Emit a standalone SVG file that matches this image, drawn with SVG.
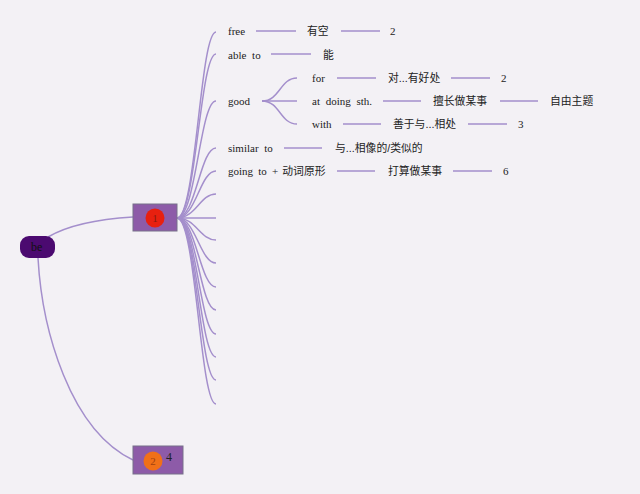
<svg xmlns="http://www.w3.org/2000/svg" width="640" height="494" viewBox="0 0 640 494">
<style>
.bg{fill:#f3f1f5}
.c{fill:none;stroke:#a48fcc;stroke-width:1.5}
.t{font-family:"Liberation Serif","Noto Sans CJK SC",serif;font-size:11px;fill:#222;word-spacing:3px}
.z{font-family:"Liberation Sans","Noto Sans CJK SC",sans-serif;font-size:10.8px;fill:#222}
.box{fill:#8d5ba8;stroke:#77708a;stroke-width:1}
</style>
<rect class="bg" x="0" y="0" width="640" height="494"/>
<g id="connectors">
<path class="c" d="M48,237 C70,224 100,219 133,217"/>
<path class="c" d="M38,258 C42,330 70,430 133,460"/>
<path class="c" d="M177,218 C196,218 200,32 216,32"/>
<path class="c" d="M177,218 C196,218 200,54 216,54"/>
<path class="c" d="M177,218 C196,218 200,101 216,101"/>
<path class="c" d="M177,218 C196,218 200,148 216,148"/>
<path class="c" d="M177,218 C196,218 200,171 216,171"/>
<path class="c" d="M177,218 C196,218 200,194 216,194"/>
<path class="c" d="M177,218 L216,218"/>
<path class="c" d="M177,218 C196,218 200,240 216,240"/>
<path class="c" d="M177,218 C196,218 200,263 216,263"/>
<path class="c" d="M177,218 C196,218 200,287 216,287"/>
<path class="c" d="M177,218 C196,218 200,310 216,310"/>
<path class="c" d="M177,218 C196,218 200,334 216,334"/>
<path class="c" d="M177,218 C196,218 200,357 216,357"/>
<path class="c" d="M177,218 C196,218 200,380 216,380"/>
<path class="c" d="M177,218 C196,218 200,404 216,404"/>
<path class="c" d="M262,101 C280,101 280,78 297,78"/>
<path class="c" d="M262,101 L297,101"/>
<path class="c" d="M262,101 C280,101 280,124 297,124"/>
<path class="c" d="M256,31 H296 M341,31 H380"/>
<path class="c" d="M271,54 H311"/>
<path class="c" d="M337,78 H376 M451,78 H490"/>
<path class="c" d="M383,101 H421 M500,101 H538"/>
<path class="c" d="M343,124 H381 M468,124 H507"/>
<path class="c" d="M284,148 H322"/>
<path class="c" d="M337,171 H375 M453,171 H492"/>
</g>
<g id="be">
<rect x="20" y="236" width="35" height="22" rx="9" fill="#4b0a70"/>
<text class="t" x="31" y="251" style="font-size:12px;fill:#111">be</text>
</g>
<g id="n1">
<rect class="box" x="133" y="204" width="44" height="27"/>
<circle cx="155" cy="218" r="9.5" fill="#e8200f"/>
<text class="t" x="155" y="222" text-anchor="middle" style="fill:#8a1a10">1</text>
</g>
<g id="n2">
<rect class="box" x="133" y="446" width="50" height="28"/>
<circle cx="153" cy="461" r="9.5" fill="#f07018"/>
<text class="t" x="153" y="465" text-anchor="middle" style="fill:#a04010">2</text>
<text class="t" x="166" y="461" style="font-size:12px">4</text>
</g>
<g id="free"><text class="t" x="228" y="35">free</text></g>
<g id="free1"><text class="z" x="307" y="35">有空</text></g>
<g id="free2"><text class="t" x="390" y="35">2</text></g>
<g id="able"><text class="t" x="228" y="59">able to</text></g>
<g id="able1"><text class="z" x="323" y="59">能</text></g>
<g id="good"><text class="t" x="228" y="105">good</text></g>
<g id="for"><text class="t" x="312" y="82">for</text></g>
<g id="for1"><text class="z" x="388" y="82">对...有好处</text></g>
<g id="for2"><text class="t" x="501" y="82">2</text></g>
<g id="at"><text class="t" x="312" y="105">at doing sth.</text></g>
<g id="at1"><text class="z" x="433" y="105">擅长做某事</text></g>
<g id="at2"><text class="z" x="550" y="105">自由主题</text></g>
<g id="with"><text class="t" x="312" y="128">with</text></g>
<g id="with1"><text class="z" x="393" y="128">善于与...相处</text></g>
<g id="with2"><text class="t" x="518" y="128">3</text></g>
<g id="similar"><text class="t" x="228" y="152">similar to</text></g>
<g id="similar1"><text class="z" x="335" y="152">与...相像的/类似的</text></g>
<g id="going"><text class="t" x="228" y="175" style="word-spacing:2.5px">going to +<tspan class="z" dx="4" style="word-spacing:0">动词原形</tspan></text></g>
<g id="going1"><text class="z" x="388" y="175">打算做某事</text></g>
<g id="going2"><text class="t" x="503" y="175">6</text></g>
</svg>
